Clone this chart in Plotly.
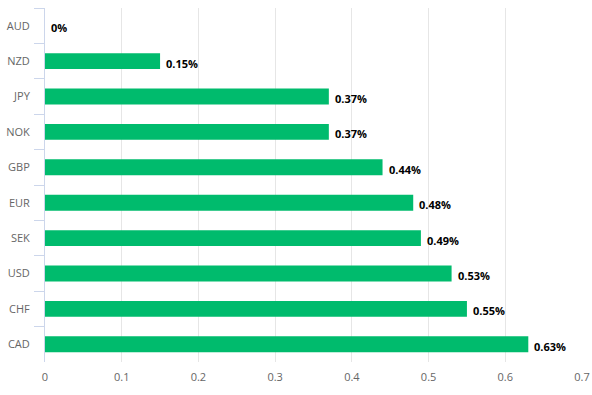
import plotly.graph_objects as go

categories = ["AUD", "NZD", "JPY", "NOK", "GBP", "EUR", "SEK", "USD", "CHF", "CAD"]
values = [0, 0.15, 0.37, 0.37, 0.44, 0.48, 0.49, 0.53, 0.55, 0.63]
labels = ["0%", "0.15%", "0.37%", "0.37%", "0.44%", "0.48%", "0.49%", "0.53%", "0.55%", "0.63%"]
x_ticks = [0, 0.1, 0.2, 0.3, 0.4, 0.5, 0.6, 0.7]

fig = go.Figure(go.Bar(
    x=values, y=categories, orientation="h",
    marker=dict(color="#00bb6d", line=dict(width=0)),
    hoverinfo="skip",
))

for v, c, t in zip(values, categories, labels):
    fig.add_annotation(x=v, y=c, text=t, showarrow=False, xanchor="left", yanchor="middle",
                       xshift=4, yshift=-2,
                       font=dict(family="Open Sans", size=11, color="#000000", weight="bold"))

fig.update_layout(
    width=592, height=395,
    margin=dict(l=45, r=10, t=8, b=33, autoexpand=False),
    paper_bgcolor="white", plot_bgcolor="white",
    bargap=0.55, showlegend=False,
    font=dict(family="Open Sans", size=11, color="#666666"),
    xaxis=dict(range=[0, 0.7], tickvals=x_ticks, ticktext=[str(t) for t in x_ticks],
               showgrid=True, gridcolor="#e6e6e6", gridwidth=1, automargin=False,
               zeroline=False, showline=False, ticks="", ticklabelstandoff=7),
    yaxis=dict(type="category", autorange="reversed", showline=True, linecolor="#ccd6eb",
               linewidth=1, ticks="outside", tickson="boundaries", ticklen=10, automargin=False,
               tickcolor="#ccd6eb", showgrid=False, zeroline=False, ticklabelstandoff=12),
)

fig.write_html("out.html", config={"displayModeBar": False},
               post_script="document.body.style.margin='0';document.body.style.overflow='hidden';")
